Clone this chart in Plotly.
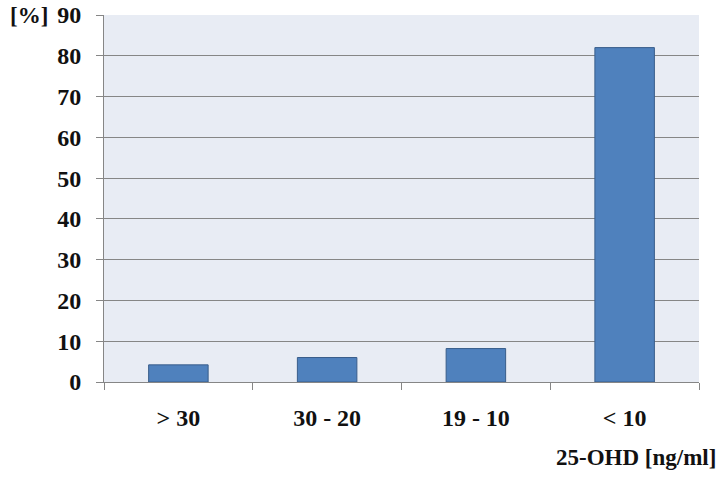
import plotly.graph_objects as go

categories = ["> 30", "30 - 20", "19 - 10", "< 10"]
values = [4.2, 6.0, 8.2, 82.0]
y_ticks = [0, 10, 20, 30, 40, 50, 60, 70, 80, 90]

W, H = 726, 477
L, R, T, B = 104, 27, 15, 95
PW, PH = W - L - R, H - T - B

FAM = "Liberation Serif, Times New Roman, serif"
TXT = "#111111"
GRID = "#868686"

fig = go.Figure(go.Bar(
    x=categories, y=values,
    marker=dict(color="#4f81bd", line=dict(color="#385d8a", width=1)),
    width=0.4,
))

fig.update_layout(
    width=W, height=H,
    margin=dict(l=L, r=R, t=T, b=B, autoexpand=False),
    paper_bgcolor="white",
    plot_bgcolor="#e8ecf4",
    showlegend=False,
    font=dict(family=FAM, size=24, color=TXT),
    xaxis=dict(
        type="category", tickson="boundaries", ticks="outside", ticklen=7,
        tickcolor=GRID, showline=True, linecolor=GRID, linewidth=1,
        showgrid=False, ticklabelstandoff=14, automargin=False,
        tickfont=dict(family=FAM, size=24, color=TXT, weight="bold"),
    ),
    yaxis=dict(
        range=[0, 90], tickvals=y_ticks, ticks="outside", ticklen=7,
        tickcolor=GRID, showline=True, linecolor=GRID, linewidth=1,
        showgrid=True, gridcolor=GRID, gridwidth=1, zeroline=False,
        ticklabelstandoff=10, automargin=False,
        tickfont=dict(family=FAM, size=24, color=TXT, weight="bold"),
    ),
    bargap=0.6,
)

fig.add_annotation(text="<b>[%]</b>", xref="paper", yref="paper",
                   x=-(L - 8) / PW, xanchor="left",
                   y=1.0, yanchor="middle", showarrow=False,
                   font=dict(family=FAM, size=23, color=TXT))
fig.add_annotation(text="<b>25-OHD [ng/ml]</b>", xref="paper", yref="paper",
                   x=(718 - L) / PW, xanchor="right",
                   y=-(457 - 382) / PH, yanchor="middle", showarrow=False,
                   font=dict(family=FAM, size=23, color=TXT))

fig.write_html("out.html", config={"displayModeBar": False},
               post_script="document.body.style.margin='0';")
